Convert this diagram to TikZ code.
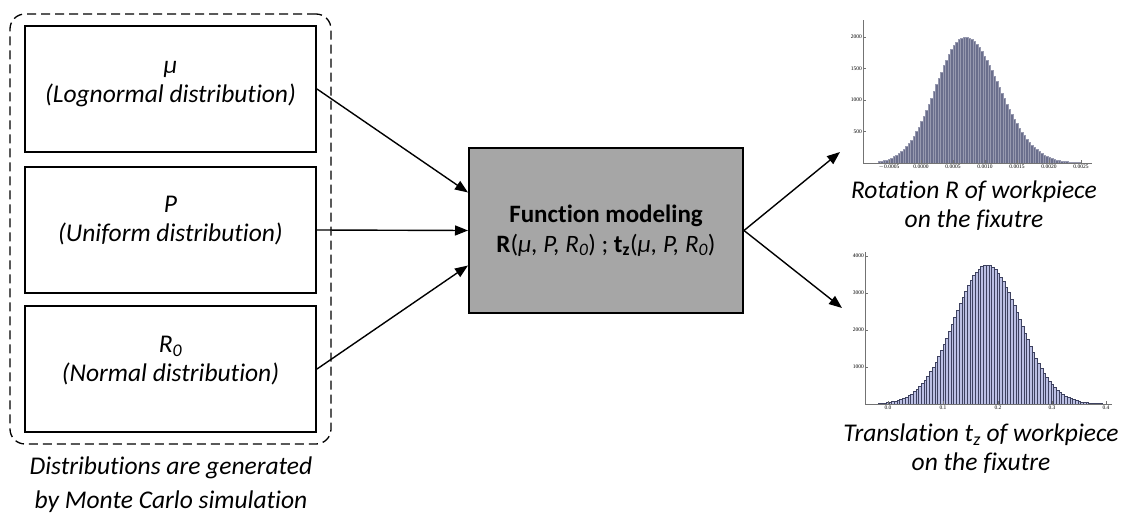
\documentclass[tikz,border=0pt]{standalone}
\usepackage{fontspec}
\setmainfont{Carlito}[Ligatures=NoCommon]
\newfontfamily\tickfont{Liberation Serif}
\usepackage{tikz}
\usetikzlibrary{arrows.meta, positioning, fit}

\definecolor{modelgray}{HTML}{A6A6A6}
\definecolor{histdark}{HTML}{6A6E8C}
\definecolor{histlight}{HTML}{BCC0E4}
\definecolor{histedge}{HTML}{3E4260}

\begin{document}
\begin{tikzpicture}[
  x=1pt, y=-1pt,
  box/.style = {draw, line width=2pt, minimum width=291pt, minimum height=126pt, inner sep=0pt},
  txt/.style = {align=center, font=\fontsize{25.5}{29}\selectfont\itshape},
  arr/.style = {-{Triangle[length=13pt,width=10pt]}, line width=1.4pt},
  axisline/.style = {draw=black!55, line width=0.5pt},
  ticklbl/.style = {font=\tickfont\fontsize{5.5}{6}\selectfont, inner sep=1pt}
]
  \useasboundingbox (0,0) rectangle (1127,513);

  % input distributions
  \node[box] (mu)    at (170.5,89)  {};
  \node[box] (pres)  at (170.5,230) {};
  \node[box] (rzero) at (170.5,369) {};
  \node[txt] (mutxt)    at ([yshift=5pt]mu.center)    {μ\\(Lognormal distribution)};
  \node[txt] (prestxt)  at ([yshift=9pt]pres.center)  {P\\(Uniform distribution)};
  \node[txt] (rzerotxt) at ([yshift=8pt]rzero.center) {R\textsubscript{0}\\(Normal distribution)};

  \node[draw, dashed, line width=1.3pt, dash pattern=on 9pt off 5pt, rounded corners=15pt,
        inner xsep=14pt, inner ysep=11pt, fit=(mu) (rzero)] (group) {};
  \node[align=center, font=\fontsize{25.5}{34}\selectfont\itshape] (mc) at (171,485)
        {Distributions are generated\\by Monte Carlo simulation};

  % model
  \node[draw, line width=2pt, fill=modelgray, minimum width=274pt, minimum height=165pt,
        align=center, font=\fontsize{25}{30}\selectfont] (model) at (606,230.5)
        {\textbf{Function modeling}\\
         \textbf{R}(\textit{μ, P, R\textsubscript{0}}) ; \textbf{t\textsubscript{z}}(\textit{μ, P, R\textsubscript{0}})};

  \draw[arr] (mu.east)    -- ([yshift=38pt]model.west);
  \draw[arr] (pres.east)  -- (model.west);
  \draw[arr] (rzero.east) -- ([yshift=-35pt]model.west);

  % outputs
  \coordinate (rottip)   at (840,152);
  \coordinate (transtip) at (842,308);
  \draw[arr] (model.east) -- (rottip);
  \draw[arr] (model.east) -- (transtip);

  % histogram of R
  \foreach \x in {878,880.5,...,1086} {
    \pgfmathsetmacro\h{126*exp(-0.5*((\x+1.25-965)/((\x<965)?29:34))^2)}
    \filldraw[fill=histdark, draw=histdark!70!white, line width=0.2pt] (\x,163) rectangle (\x+2.5,163-\h);
  }
  \draw[axisline] (863,163) -- (1092,163);
  \draw[axisline] (863,163) -- (863,20);
  \foreach \v/\y in {500/131.5, 1000/100, 1500/68.5, 2000/37} {
    \draw[axisline] (863,\y) -- (866,\y);
    \node[ticklbl, left] at (863,\y) {\v};
  }
  \foreach \v [count=\i from 0] in {$-$0.0005, 0.0000, 0.0005, 0.0010, 0.0015, 0.0020, 0.0025} {
    \draw[axisline] (889+32*\i,163) -- (889+32*\i,160);
    \node[ticklbl, below] at (889+32*\i,164) {\v};
  }
  \node[txt] (rot) at (974,206)
        {Rotation R of workpiece\\on the fixutre};

  % histogram of tz
  \foreach \x in {878,880.7,...,1106} {
    \pgfmathsetmacro\h{139*exp(-0.5*((\x+1.35-987)/33)^2)}
    \filldraw[fill=histlight, draw=histedge, line width=0.35pt] (\x,404) rectangle (\x+2.7,404-\h);
  }
  \draw[axisline] (865,404) -- (1112,404);
  \draw[axisline] (865,404) -- (865,252);
  \foreach \v/\y in {1000/367, 2000/330, 3000/293, 4000/256} {
    \draw[axisline] (865,\y) -- (868,\y);
    \node[ticklbl, left] at (865,\y) {\v};
  }
  \foreach \v/\x in {0.0/888, 0.1/943, 0.2/998, 0.3/1052, 0.4/1106} {
    \draw[axisline] (\x,404) -- (\x,401);
    \node[ticklbl, below] at (\x,405) {\v};
  }
  \node[txt] (trans) at (981,449)
        {Translation t\textsubscript{z} of workpiece\\on the fixutre};
\end{tikzpicture}
\end{document}
